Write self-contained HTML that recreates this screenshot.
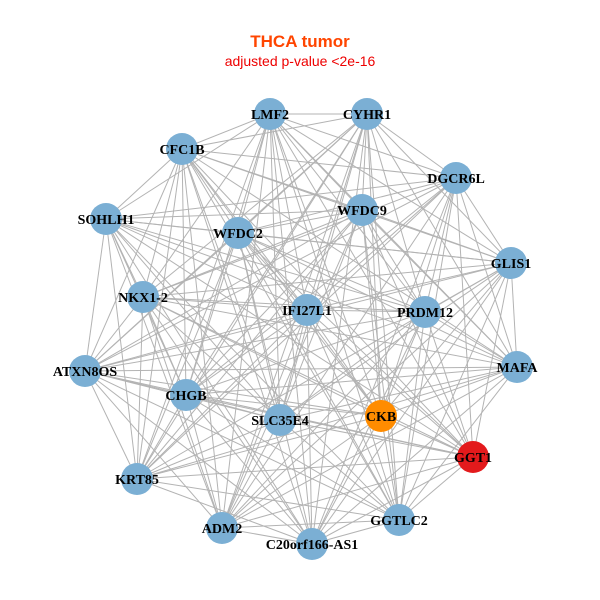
<!DOCTYPE html>
<html><head><meta charset="utf-8"><style>
html,body{margin:0;padding:0;background:#fff}
svg{display:block}
</style></head><body>
<svg id="s" width="600" height="600" xmlns="http://www.w3.org/2000/svg">
<rect width="600" height="600" fill="#fff"/>
<text x="300" y="47" text-anchor="middle" font-family="Liberation Sans, sans-serif" font-weight="bold" font-size="17" fill="#FF4500">THCA tumor</text>
<text x="300" y="66" text-anchor="middle" font-family="Liberation Sans, sans-serif" font-size="14" fill="#EE0000">adjusted p-value &lt;2e-16</text>
<g id="e" stroke="#b3b3b3" stroke-width="1"></g>
<g id="n"></g>
</svg>
<script>
var N=[["LMF2",270,114],["CYHR1",367,114],["CFC1B",182,149],["DGCR6L",456,178],["WFDC9",362,210],["SOHLH1",106,219],["WFDC2",238,233],["GLIS1",511,263],["NKX1-2",143,297],["IFI27L1",307,310],["PRDM12",425,312],["ATXN8OS",85,371],["MAFA",517,367],["CHGB",186,395],["CKB",381,416,"#FF8C00"],["SLC35E4",280,420],["GGT1",473,457,"#E31A1C"],["KRT85",137,479],["GGTLC2",399,520],["ADM2",222,528],["C20orf166-AS1",312,544]];
var ns="http://www.w3.org/2000/svg",e=document.getElementById("e"),g=document.getElementById("n");
for(var i=0;i<N.length;i++)for(var j=i+1;j<N.length;j++){
 if((i*7+j*3)%11==0)continue;
 var l=document.createElementNS(ns,"line");
 l.setAttribute("x1",N[i][1]);l.setAttribute("y1",N[i][2]);l.setAttribute("x2",N[j][1]);l.setAttribute("y2",N[j][2]);e.appendChild(l);}
N.forEach(function(d){
 var c=document.createElementNS(ns,"circle");c.setAttribute("cx",d[1]);c.setAttribute("cy",d[2]);c.setAttribute("r",16);c.setAttribute("fill",d[3]||"#7BAFD4");g.appendChild(c);
 var t=document.createElementNS(ns,"text");t.setAttribute("x",d[1]);t.setAttribute("y",d[2]+5);t.setAttribute("text-anchor","middle");
 t.setAttribute("font-family","Liberation Serif, serif");t.setAttribute("font-weight","bold");t.setAttribute("font-size","14");t.textContent=d[0];g.appendChild(t);});
</script>
</body></html>
